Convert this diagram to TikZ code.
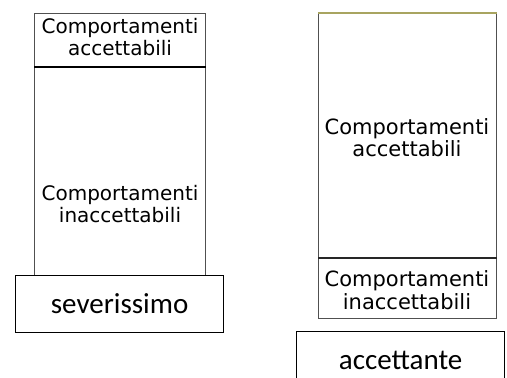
\documentclass[tikz,border=0pt]{standalone}
\usepackage{fontspec}
\setmainfont{DejaVu Sans}
\newfontfamily\boxfont{Carlito}
\definecolor{edgegray}{HTML}{505050}
\definecolor{topolive}{HTML}{A8A460}
\begin{document}
\begin{tikzpicture}[x=1pt,y=-1pt,
  region/.style={draw=edgegray, line width=0.9pt, anchor=north west, inner sep=0pt,
    minimum width=#1},
  zonetext/.style={align=center, inner sep=0pt, font=\fontsize{20}{22}\selectfont},
  zonetextwide/.style={align=center, inner sep=0pt, font=\fontsize{21}{22.5}\selectfont},
  judge/.style={draw=black, line width=1.2pt, anchor=north west, inner sep=0pt,
    minimum height=57pt, font=\boxfont\fontsize{29}{32}\selectfont},
  divider/.style={line width=2.4pt, black},
  thindivider/.style={line width=1.3pt, black!85}]
\useasboundingbox (0,0) rectangle (507,378);
\clip (0,0) rectangle (507,378);

% ---- strict column ----
\node[region=171pt, minimum height=53pt] (lacc) at (34,13) {};
\node[region=171pt, minimum height=209pt] (linacc) at (34,66) {};
\draw[divider] (lacc.south west) -- (lacc.south east);
\node[zonetext] (laccText) at (120,37.5) {Comportamenti\\accettabili};
\node[zonetext] (linaccText) at (120,204) {Comportamenti\\inaccettabili};
\node[judge, minimum width=208pt, fill=white] (sev) at (15,275) {};
\node[font=\boxfont\fontsize{29}{32}\selectfont, inner sep=0pt] (sevText) at (sev.center) {severissimo};

% ---- tolerant column ----
\node[region=178pt, minimum height=244pt] (racc) at (318,13) {};
\node[region=178pt, minimum height=61pt] (rinacc) at (318,257) {};
\draw[topolive, line width=1.2pt] (racc.north west) -- (racc.north east);
\draw[thindivider] (racc.south west) -- (racc.south east);
\node[zonetextwide] (raccText) at (407,137.5) {Comportamenti\\accettabili};
\node[zonetextwide] (rinaccText) at (407,290) {Comportamenti\\inaccettabili};
\node[judge, minimum width=208pt] (acc) at (296,331) {};
\node[font=\boxfont\fontsize{29}{32}\selectfont, inner sep=0pt] (accText) at ([yshift=-29pt]acc.north) {accettante};
\end{tikzpicture}
\end{document}
